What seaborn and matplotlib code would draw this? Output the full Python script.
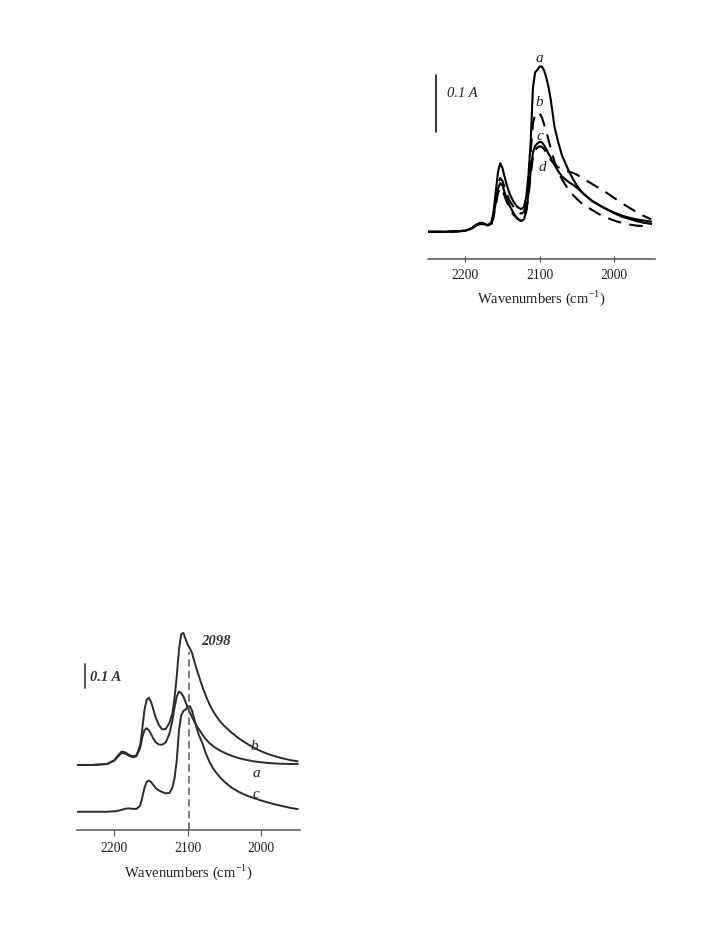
import matplotlib
matplotlib.use("Agg")
import matplotlib.pyplot as plt
import seaborn as sns
import pandas as pd

# ---------------- data ----------------
wavenumbers = [2250, 2230, 2210, 2200, 2195, 2190, 2185, 2180, 2175, 2170,
               2165, 2162, 2159, 2156, 2153, 2150, 2147, 2144, 2140, 2135,
               2130, 2125, 2121, 2118, 2115, 2112, 2109, 2106, 2103, 2100,
               2097, 2094, 2091, 2088, 2085, 2080, 2075, 2070, 2065, 2060,
               2055, 2050, 2045, 2040, 2030, 2020, 2010, 2000, 1990, 1980,
               1970, 1960, 1950]

# top panel spectra (absorbance)
top_a = [0.000, 0.000, 0.001, 0.002, 0.004, 0.008, 0.013, 0.016, 0.015, 0.012,
         0.016, 0.035, 0.070, 0.105, 0.121, 0.113, 0.097, 0.082, 0.066, 0.053,
         0.044, 0.040, 0.044, 0.062, 0.100, 0.160, 0.255, 0.282, 0.286, 0.292,
         0.292, 0.285, 0.272, 0.255, 0.233, 0.185, 0.158, 0.135, 0.120, 0.105,
         0.093, 0.082, 0.073, 0.066, 0.055, 0.047, 0.040, 0.034, 0.029, 0.025,
         0.022, 0.020, 0.018]
top_b = [0.000, 0.000, 0.001, 0.002, 0.004, 0.007, 0.012, 0.015, 0.014, 0.011,
         0.015, 0.030, 0.058, 0.085, 0.095, 0.090, 0.078, 0.066, 0.054, 0.044,
         0.036, 0.032, 0.035, 0.052, 0.088, 0.140, 0.192, 0.207, 0.211, 0.209,
         0.202, 0.190, 0.177, 0.162, 0.147, 0.124, 0.106, 0.093, 0.082, 0.073,
         0.065, 0.058, 0.052, 0.047, 0.039, 0.031, 0.025, 0.020, 0.016, 0.013,
         0.011, 0.010, 0.009]
top_c = [0.000, 0.000, 0.001, 0.002, 0.004, 0.007, 0.012, 0.015, 0.014, 0.011,
         0.014, 0.028, 0.052, 0.076, 0.086, 0.082, 0.070, 0.058, 0.045, 0.033,
         0.024, 0.019, 0.022, 0.038, 0.068, 0.108, 0.140, 0.152, 0.156, 0.159,
         0.158, 0.153, 0.146, 0.138, 0.131, 0.118, 0.107, 0.098, 0.092, 0.087,
         0.083, 0.078, 0.072, 0.066, 0.055, 0.047, 0.040, 0.033, 0.027, 0.023,
         0.019, 0.016, 0.014]
top_d = [0.000, 0.000, 0.001, 0.002, 0.004, 0.007, 0.011, 0.014, 0.013, 0.010,
         0.013, 0.025, 0.046, 0.068, 0.078, 0.074, 0.063, 0.052, 0.040, 0.030,
         0.023, 0.019, 0.021, 0.035, 0.063, 0.102, 0.132, 0.144, 0.149, 0.151,
         0.150, 0.146, 0.140, 0.133, 0.127, 0.119, 0.114, 0.111, 0.108, 0.106,
         0.104, 0.101, 0.097, 0.093, 0.085, 0.077, 0.069, 0.060, 0.051, 0.043,
         0.035, 0.028, 0.022]

# bottom panel spectra (absorbance, before vertical offset)
bot_b = [0.000, 0.000, 0.004, 0.020, 0.040, 0.056, 0.052, 0.042, 0.036, 0.040,
         0.080, 0.150, 0.230, 0.272, 0.280, 0.262, 0.232, 0.200, 0.170, 0.148,
         0.150, 0.175, 0.215, 0.280, 0.370, 0.480, 0.545, 0.550, 0.525, 0.500,
         0.485, 0.465, 0.430, 0.400, 0.372, 0.325, 0.285, 0.250, 0.222, 0.198,
         0.178, 0.162, 0.148, 0.134, 0.110, 0.090, 0.072, 0.057, 0.045, 0.035,
         0.027, 0.020, 0.015]
bot_a = [0.000, 0.000, 0.004, 0.018, 0.036, 0.050, 0.047, 0.038, 0.032, 0.036,
         0.070, 0.115, 0.145, 0.153, 0.145, 0.128, 0.110, 0.096, 0.086, 0.084,
         0.094, 0.130, 0.185, 0.240, 0.285, 0.305, 0.300, 0.285, 0.262, 0.240,
         0.218, 0.198, 0.180, 0.163, 0.150, 0.126, 0.106, 0.090, 0.077, 0.067,
         0.058, 0.051, 0.044, 0.038, 0.028, 0.021, 0.015, 0.011, 0.008, 0.006,
         0.005, 0.004, 0.004]
bot_c = [0.000, 0.000, 0.000, 0.002, 0.004, 0.008, 0.013, 0.014, 0.012, 0.012,
         0.025, 0.060, 0.100, 0.125, 0.130, 0.124, 0.112, 0.100, 0.090, 0.082,
         0.077, 0.078, 0.100, 0.140, 0.215, 0.340, 0.400, 0.420, 0.425, 0.438,
         0.440, 0.420, 0.385, 0.350, 0.320, 0.285, 0.240, 0.205, 0.178, 0.158,
         0.140, 0.125, 0.112, 0.100, 0.082, 0.068, 0.057, 0.047, 0.038, 0.030,
         0.023, 0.016, 0.011]
bot_offsets = {"a": 0.195, "b": 0.195, "c": 0.0}

x_ticks = [2200, 2100, 2000]
marker_wn = 2098
scale_bar = 0.1

# ---------------- style ----------------
sns.set_theme(style="white")
plt.rcParams["font.family"] = ["Liberation Serif", "DejaVu Serif"]
plt.rcParams["mathtext.fontset"] = "custom"
plt.rcParams["mathtext.rm"] = "Liberation Serif"

W, H = 725, 951
fig = plt.figure(figsize=(W / 100, H / 100), dpi=100)


def axes_px(l, t, r, b):
    return fig.add_axes([l / W, 1 - b / H, (r - l) / W, (b - t) / H])


def style_axis(ax, xlim, ylim, direction, spine_color):
    ax.set_xlim(*xlim)
    ax.set_ylim(*ylim)
    for s in ("left", "right", "top"):
        ax.spines[s].set_visible(False)
    ax.spines["bottom"].set_color(spine_color)
    ax.spines["bottom"].set_linewidth(1.1)
    ax.set_yticks([])
    ax.set_xticks(x_ticks)
    ax.set_xticklabels([str(t) for t in x_ticks])
    ax.tick_params(axis="x", bottom=True, direction=direction, length=4,
                   width=0.8, color=spine_color, labelsize=9.8, pad=5,
                   labelcolor="#1e1e1e")
    ax.set_ylabel("")
    ax.set_xlabel(r"Wavenumbers (cm$^{-1}$)", fontsize=10.5, color="#1e1e1e",
                  labelpad=5)
    ax.set_facecolor("none")


# ---------------- top panel ----------------
ax1 = axes_px(428, 45, 655, 259)
dash = (0, (6.5, 4))
top_series = [("a", top_a, "-"), ("b", top_b, dash), ("c", top_c, "-"), ("d", top_d, dash)]
for name, vals, ls in top_series:
    df = pd.DataFrame({"wn": wavenumbers, "A": vals})
    sns.lineplot(data=df, x="wn", y="A", ax=ax1, color="black", linewidth=1.5,
                 linestyle=ls, sort=False, estimator=None)
style_axis(ax1, (2250, 1945), (-0.048, 0.33), "inout", "#555555")

for lab, wn, y in [("a", 2100, 0.307), ("b", 2100, 0.228), ("c", 2100, 0.168), ("d", 2096, 0.113)]:
    ax1.text(wn, y, lab, fontsize=11, style="italic", ha="center", va="center",
             color="#1e1e1e", clip_on=False)
ax1.plot([2239, 2239], [0.177, 0.177 + scale_bar], color="black", lw=1.1, clip_on=False)
ax1.text(2225, 0.245, "0.1 A", fontsize=10.5, style="italic", ha="left", va="center",
         color="#1e1e1e")

# ---------------- bottom panel ----------------
ax2 = axes_px(77, 625, 300, 830)
bot_series = [("b", bot_b), ("a", bot_a), ("c", bot_c)]
for name, vals in bot_series:
    df = pd.DataFrame({"wn": wavenumbers, "A": [v + bot_offsets[name] for v in vals]})
    sns.lineplot(data=df, x="wn", y="A", ax=ax2, color="#2b2b2b", linewidth=1.4,
                 sort=False, estimator=None)
style_axis(ax2, (2251, 1947), (-0.076, 0.778), "out", "#555555")
ax2.plot([marker_wn, marker_wn], [-0.076, 0.667], color="#666666", lw=1.2,
         linestyle=(0, (4.5, 2.5)), clip_on=False)
ax2.text(2061, 0.711, str(marker_wn), fontsize=10.5, style="italic", weight="bold",
         ha="center", va="center", color="#333333")
for lab, wn, y in [("b", 2009, 0.27), ("a", 2007, 0.161), ("c", 2007, 0.07)]:
    ax2.text(wn, y, lab, fontsize=11, style="italic", ha="center", va="center",
             color="#1e1e1e")
ax2.plot([2240, 2240], [0.515, 0.515 + scale_bar], color="#555555", lw=1.4)
ax2.text(2233, 0.561, "0.1 A", fontsize=10.5, style="italic", weight="bold",
         ha="left", va="center", color="#333333")

fig.savefig("out.png", dpi=100, facecolor="white")
